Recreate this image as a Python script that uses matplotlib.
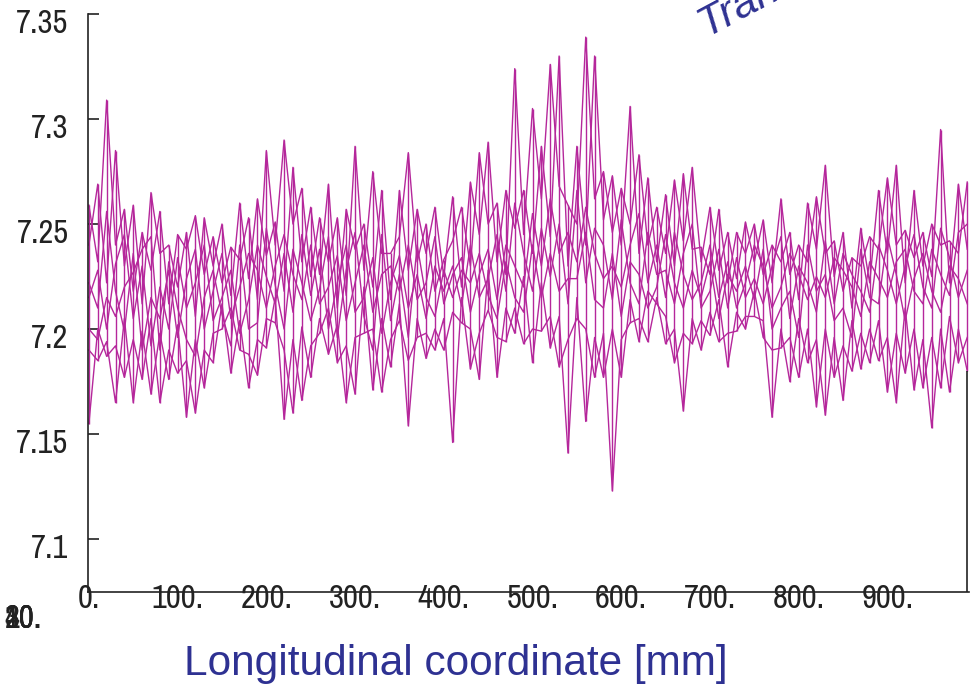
import matplotlib
matplotlib.use("Agg")
import matplotlib.pyplot as plt
import matplotlib.transforms as mtransforms
from matplotlib import font_manager
import numpy as np

# longitudinal positions [mm]
x_mm = list(range(0, 1000, 10))

# one profile per transverse position
s1 = [7.259, 7.232, 7.309, 7.240, 7.257, 7.218, 7.246, 7.228, 7.256, 7.212,
      7.245, 7.238, 7.254, 7.226, 7.244, 7.222, 7.239, 7.233, 7.253, 7.214,
      7.285, 7.240, 7.290, 7.250, 7.267, 7.225, 7.253, 7.232, 7.253, 7.216,
      7.287, 7.228, 7.275, 7.236, 7.236, 7.244, 7.284, 7.232, 7.250, 7.218,
      7.233, 7.242, 7.258, 7.230, 7.284, 7.250, 7.260, 7.226, 7.324, 7.245,
      7.305, 7.262, 7.326, 7.268, 7.259, 7.250, 7.339, 7.262, 7.275, 7.246,
      7.267, 7.250, 7.283, 7.240, 7.258, 7.236, 7.271, 7.242, 7.277, 7.232,
      7.258, 7.228, 7.246, 7.224, 7.251, 7.232, 7.252, 7.222, 7.262, 7.226,
      7.240, 7.232, 7.263, 7.236, 7.242, 7.218, 7.234, 7.230, 7.244, 7.238,
      7.272, 7.240, 7.247, 7.234, 7.246, 7.225, 7.295, 7.222, 7.269, 7.238]
s2 = [7.240, 7.269, 7.222, 7.285, 7.230, 7.259, 7.212, 7.265, 7.236, 7.240,
      7.220, 7.246, 7.206, 7.253, 7.230, 7.250, 7.216, 7.260, 7.224, 7.262,
      7.235, 7.251, 7.218, 7.277, 7.232, 7.258, 7.226, 7.269, 7.210, 7.257,
      7.238, 7.250, 7.220, 7.266, 7.214, 7.266, 7.228, 7.257, 7.236, 7.258,
      7.225, 7.263, 7.220, 7.270, 7.245, 7.289, 7.232, 7.266, 7.248, 7.266,
      7.236, 7.287, 7.244, 7.330, 7.230, 7.287, 7.240, 7.330, 7.252, 7.273,
      7.240, 7.306, 7.236, 7.272, 7.232, 7.264, 7.230, 7.274, 7.238, 7.239,
      7.226, 7.257, 7.222, 7.246, 7.236, 7.250, 7.226, 7.240, 7.232, 7.246,
      7.214, 7.260, 7.238, 7.278, 7.225, 7.246, 7.210, 7.248, 7.222, 7.266,
      7.236, 7.278, 7.222, 7.266, 7.230, 7.250, 7.240, 7.242, 7.236, 7.270]
s3 = [7.222, 7.210, 7.256, 7.218, 7.199, 7.236, 7.190, 7.215, 7.205, 7.228,
      7.196, 7.224, 7.238, 7.200, 7.218, 7.236, 7.205, 7.220, 7.236, 7.228,
      7.210, 7.230, 7.245, 7.226, 7.214, 7.240, 7.212, 7.220, 7.235, 7.204,
      7.222, 7.240, 7.208, 7.226, 7.230, 7.218, 7.240, 7.214, 7.222, 7.244,
      7.212, 7.226, 7.234, 7.208, 7.226, 7.238, 7.214, 7.240, 7.230, 7.220,
      7.255, 7.230, 7.262, 7.236, 7.246, 7.232, 7.258, 7.236, 7.224, 7.230,
      7.220, 7.240, 7.255, 7.222, 7.240, 7.215, 7.246, 7.226, 7.214, 7.222,
      7.240, 7.215, 7.232, 7.210, 7.222, 7.240, 7.230, 7.210, 7.220, 7.236,
      7.226, 7.214, 7.225, 7.215, 7.234, 7.228, 7.220, 7.206, 7.232, 7.224,
      7.215, 7.232, 7.238, 7.218, 7.212, 7.238, 7.226, 7.216, 7.246, 7.250]
s4 = [7.215, 7.228, 7.200, 7.231, 7.245, 7.205, 7.230, 7.192, 7.220, 7.200,
      7.234, 7.210, 7.222, 7.240, 7.204, 7.215, 7.228, 7.198, 7.214, 7.240,
      7.225, 7.212, 7.236, 7.208, 7.245, 7.216, 7.238, 7.200, 7.222, 7.240,
      7.208, 7.215, 7.234, 7.198, 7.222, 7.235, 7.210, 7.226, 7.205, 7.230,
      7.218, 7.230, 7.211, 7.240, 7.215, 7.224, 7.245, 7.218, 7.260, 7.236,
      7.218, 7.248, 7.225, 7.250, 7.212, 7.266, 7.222, 7.248, 7.240, 7.214,
      7.252, 7.222, 7.212, 7.246, 7.226, 7.228, 7.212, 7.236, 7.250, 7.210,
      7.218, 7.238, 7.210, 7.234, 7.215, 7.224, 7.212, 7.230, 7.244, 7.205,
      7.230, 7.222, 7.208, 7.242, 7.212, 7.236, 7.226, 7.218, 7.208, 7.240,
      7.228, 7.212, 7.230, 7.245, 7.220, 7.210, 7.248, 7.234, 7.215, 7.228]
s5 = [7.200, 7.195, 7.215, 7.206, 7.220, 7.227, 7.238, 7.244, 7.190, 7.232,
      7.210, 7.195, 7.187, 7.215, 7.228, 7.207, 7.192, 7.240, 7.200, 7.203,
      7.248, 7.221, 7.200, 7.238, 7.222, 7.204, 7.219, 7.244, 7.196, 7.228,
      7.246, 7.206, 7.190, 7.245, 7.204, 7.226, 7.196, 7.240, 7.215, 7.206,
      7.228, 7.215, 7.228, 7.222, 7.236, 7.216, 7.205, 7.232, 7.215, 7.208,
      7.240, 7.215, 7.236, 7.218, 7.224, 7.224, 7.246, 7.214, 7.210, 7.236,
      7.206, 7.232, 7.226, 7.210, 7.220, 7.245, 7.222, 7.210, 7.228, 7.215,
      7.232, 7.205, 7.226, 7.218, 7.230, 7.214, 7.238, 7.200, 7.210, 7.218,
      7.196, 7.240, 7.218, 7.226, 7.204, 7.210, 7.196, 7.238, 7.215, 7.212,
      7.244, 7.226, 7.204, 7.224, 7.236, 7.218, 7.208, 7.230, 7.224, 7.212]
s6 = [7.190, 7.185, 7.194, 7.165, 7.205, 7.165, 7.199, 7.169, 7.198, 7.176,
      7.202, 7.158, 7.195, 7.172, 7.198, 7.200, 7.210, 7.190, 7.188, 7.178,
      7.205, 7.203, 7.190, 7.160, 7.201, 7.177, 7.205, 7.188, 7.202, 7.165,
      7.196, 7.198, 7.200, 7.170, 7.195, 7.204, 7.185, 7.196, 7.198, 7.190,
      7.205, 7.146, 7.215, 7.181, 7.198, 7.209, 7.196, 7.194, 7.210, 7.193,
      7.200, 7.199, 7.206, 7.182, 7.195, 7.205, 7.200, 7.177, 7.198, 7.123,
      7.195, 7.203, 7.205, 7.194, 7.215, 7.193, 7.200, 7.161, 7.205, 7.190,
      7.208, 7.194, 7.198, 7.199, 7.206, 7.206, 7.204, 7.158, 7.200, 7.175,
      7.205, 7.184, 7.195, 7.159, 7.196, 7.166, 7.204, 7.181, 7.200, 7.185,
      7.196, 7.165, 7.210, 7.171, 7.195, 7.153, 7.200, 7.170, 7.200, 7.180]
s7 = [7.155, 7.200, 7.187, 7.192, 7.177, 7.195, 7.176, 7.205, 7.165, 7.190,
      7.179, 7.185, 7.160, 7.190, 7.184, 7.212, 7.179, 7.204, 7.172, 7.195,
      7.191, 7.215, 7.157, 7.195, 7.166, 7.192, 7.198, 7.210, 7.184, 7.192,
      7.169, 7.220, 7.171, 7.205, 7.182, 7.212, 7.154, 7.205, 7.186, 7.200,
      7.190, 7.208, 7.203, 7.200, 7.176, 7.228, 7.177, 7.210, 7.198, 7.225,
      7.184, 7.222, 7.191, 7.206, 7.141, 7.215, 7.156, 7.196, 7.177, 7.200,
      7.177, 7.214, 7.194, 7.218, 7.212, 7.206, 7.184, 7.198, 7.193, 7.204,
      7.197, 7.214, 7.182, 7.208, 7.200, 7.218, 7.196, 7.190, 7.191, 7.196,
      7.177, 7.200, 7.163, 7.200, 7.177, 7.192, 7.180, 7.198, 7.184, 7.204,
      7.170, 7.198, 7.179, 7.200, 7.172, 7.196, 7.172, 7.206, 7.184, 7.196]

y_ticks = [7.1, 7.15, 7.2, 7.25, 7.3, 7.35]
y_ticklabels = ["7.1", "7.15", "7.2", "7.25", "7.3", "7.35"]
x_ticks = [0, 100, 200, 300, 400, 500, 600, 700, 800, 900]
x_ticklabels = ["0.", "100.", "200.", "300.", "400.", "500.", "600.", "700.", "800.", "900."]
depth_labels = ["10.", "20.", "30.", "40."]

# a narrow sans if one is installed, else plain Liberation Sans
names = sorted({f.name for f in font_manager.fontManager.ttflist})
narrow = "Liberation Sans"
for n in names:
    if "Narrow" in n or "Condensed" in n:
        narrow = n
        break

line_color = "#b5279b"
blue = "#2e3192"
dark = "#222222"

fig = plt.figure(figsize=(9.8, 6.87), dpi=100)
ax = fig.add_axes([0.0898, 0.1383, 0.899, 0.8413])

profiles = np.array([s1, s2, s3, s4, s5, s6, s7])
for prof in profiles:
    ax.plot(x_mm, prof, color=line_color, lw=1.0)
# transverse mesh lines seen edge-on
ax.vlines(x_mm, profiles.min(axis=0), profiles.max(axis=0), color=line_color, lw=1.0)

ax.set_xlim(-1, 992)
ax.set_ylim(7.0748, 7.35)

for s in ["top", "right"]:
    ax.spines[s].set_visible(False)
for s in ["left", "bottom"]:
    ax.spines[s].set_color(dark)
    ax.spines[s].set_linewidth(1.2)

# right edge of the box
ax.vlines([x_mm[-1]], 7.0748, profiles[:, -1].min(), color=dark, lw=1.2)

ax.set_yticks(y_ticks)
ax.set_yticklabels(y_ticklabels, fontsize=23.5, family=narrow, color=dark)
ax.tick_params(axis="y", direction="in", length=8, width=1.2, color=dark, pad=14)
off = mtransforms.ScaledTranslation(0, -7 / 100, fig.dpi_scale_trans)
for lab in ax.get_yticklabels():
    lab.set_transform(lab.get_transform() + off)

ax.set_xticks(x_ticks)
ax.set_xticklabels(x_ticklabels, fontsize=23.5, family=narrow, color=dark)
ax.tick_params(axis="x", length=0, pad=-6)

for t in depth_labels:
    fig.text(42 / 980, 1 - 619 / 687, t, fontsize=23.5, family=narrow, ha="right",
             va="center", color=dark)

fig.text(456 / 980, 1 - 664 / 687, "Longitudinal coordinate [mm]", fontsize=30.5,
         family="Liberation Sans", color=blue, ha="center", va="center")
fig.text(707 / 980, 1 - 38 / 687, "Transverse coordinate [mm]", fontsize=31,
         family="Liberation Sans", style="italic", color=blue, rotation=28,
         ha="left", va="baseline", rotation_mode="anchor")

fig.savefig("out.png", dpi=100)
